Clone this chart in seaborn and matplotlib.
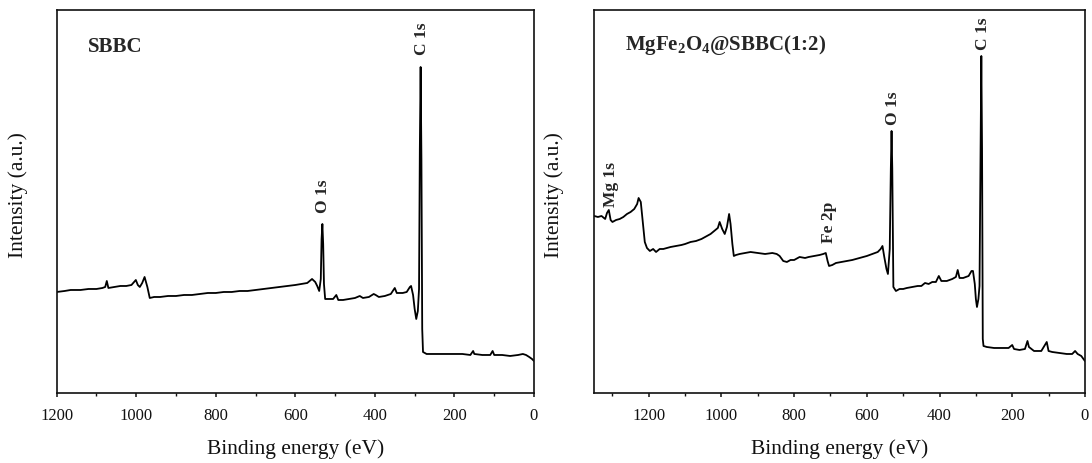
import numpy as np
import pandas as pd
import matplotlib
matplotlib.use("Agg")
import matplotlib.pyplot as plt
import seaborn as sns
from matplotlib.ticker import MultipleLocator

# ---------------- data ----------------
sbbc_energy = [1200, 1180, 1165, 1140, 1120, 1100, 1085, 1078, 1074, 1070, 1055, 1040, 1025, 1012,
               1001, 996, 991, 985, 979, 972, 966, 955, 940, 920, 900, 880, 860, 840, 820, 800,
               780, 760, 740, 720, 700, 680, 660, 640, 620, 600, 585, 570, 558, 550, 545, 540,
               536, 534, 532, 530, 528, 525, 515, 505, 497, 492, 480, 465, 450, 438, 430, 415,
               403, 398, 390, 375, 360, 350, 345, 330, 320, 312, 309, 304, 300, 296, 292, 289,
               287, 285, 283, 281, 279, 270, 250, 220, 200, 180, 160, 153, 150, 130, 110, 104,
               100, 80, 60, 40, 28, 20, 12, 5, 0]
sbbc_intensity = [101, 102, 103, 103, 104, 104, 105, 106, 112, 105, 106, 107, 107, 108,
                  113, 108, 106, 110, 116, 106, 95, 96, 96, 97, 97, 98, 98, 99, 100, 100,
                  101, 101, 102, 102, 103, 104, 105, 106, 107, 108, 109, 110, 114, 111, 107, 102,
                  114, 154, 169, 149, 109, 94, 94, 94, 98, 93, 93, 94, 95, 97, 95, 96,
                  99, 98, 96, 97, 99, 105, 100, 100, 101, 106, 107, 98, 84, 74, 82, 104,
                  244, 326, 234, 64, 41, 39, 39, 39, 39, 39, 38, 42, 39, 38, 38, 42,
                  38, 38, 37, 38, 39, 38, 36, 34, 32]

mgfe_energy = [1350, 1340, 1330, 1320, 1315, 1310, 1305, 1300, 1290, 1280, 1270, 1260, 1250, 1240,
               1232, 1228, 1222, 1216, 1211, 1205, 1197, 1188, 1180, 1170, 1160, 1150, 1140, 1125,
               1110, 1100, 1085, 1070, 1055, 1040, 1030, 1020, 1010, 1005, 998, 991, 985, 979,
               975, 970, 966, 960, 950, 935, 920, 900, 880, 860, 848, 840, 830, 820, 810, 800,
               785, 770, 760, 745, 730, 720, 713, 708, 704, 695, 685, 670, 655, 640, 620, 600,
               585, 570, 562, 557, 552, 546, 542, 537, 534, 532, 530, 527, 520, 510, 500, 490,
               475, 460, 450, 440, 430, 420, 410, 402, 395, 380, 365, 355, 350, 345, 335, 320,
               312, 308, 303, 300, 297, 293, 290, 287, 285, 283, 281, 279, 270, 250, 225, 210,
               200, 195, 180, 165, 158, 154, 140, 120, 105, 100, 90, 70, 50, 35, 27, 20, 10, 0]
mgfe_intensity = [177, 176, 177, 174, 180, 183, 173, 171, 173, 174, 176, 179, 181, 184,
                  189, 195, 191, 169, 151, 145, 142, 144, 141, 144, 144, 145, 146, 147,
                  148, 149, 151, 152, 154, 157, 159, 162, 165, 171, 164, 159, 166, 179,
                  169, 149, 137, 138, 139, 140, 141, 140, 139, 140, 139, 137, 132, 131, 133, 133,
                  136, 135, 136, 137, 138, 139, 140, 132, 127, 128, 130, 131, 132, 133, 135, 137,
                  139, 141, 144, 147, 136, 124, 119, 144, 224, 262, 224, 106, 102, 104, 104, 105,
                  106, 107, 107, 110, 109, 111, 111, 117, 112, 112, 114, 116, 123, 115, 115, 117,
                  122, 122, 109, 94, 86, 94, 107, 244, 337, 244, 54, 47, 46, 45, 45, 45,
                  48, 44, 43, 44, 52, 46, 42, 42, 51, 42, 41, 40, 39, 39, 42, 39, 37, 32]

xtick_values = [1200, 1000, 800, 600, 400, 200, 0]
sbbc_peaks = ["O 1s", "C 1s"]
sbbc_peak_pos = [531, 282.5]
sbbc_peak_y = [181, 339]
mgfe_peaks = ["Mg 1s", "Fe 2p", "O 1s", "C 1s"]
mgfe_peak_pos = [1303, 705, 529, 281]
mgfe_peak_y = [187, 151, 269, 344]

# ---------------- style ----------------
sns.set_theme(style="ticks")
plt.rcParams["font.family"] = ["Liberation Serif", "DejaVu Serif"]
plt.rcParams["mathtext.fontset"] = "custom"
plt.rcParams["mathtext.rm"] = "Liberation Serif"
plt.rcParams["mathtext.bf"] = "Liberation Serif:bold"
plt.rcParams["mathtext.it"] = "Liberation Serif:italic"

fig = plt.figure(figsize=(10.92, 4.64), dpi=100)
ax1 = fig.add_axes([0.0519, 0.1509, 0.4371, 0.8254])
ax2 = fig.add_axes([0.5442, 0.1509, 0.4493, 0.8254])

df1 = pd.DataFrame({"energy": sbbc_energy, "intensity": sbbc_intensity})
df2 = pd.DataFrame({"energy": mgfe_energy, "intensity": mgfe_intensity})

sns.lineplot(data=df1, x="energy", y="intensity", ax=ax1, color="black", lw=1.3,
             estimator=None, sort=False)
sns.lineplot(data=df2, x="energy", y="intensity", ax=ax2, color="black", lw=1.3,
             estimator=None, sort=False)

for ax, xmax, lx in ((ax1, 1200, -0.060), (ax2, 1350, -0.062)):
    ax.set_xlim(xmax, 0)
    ax.set_ylim(0, 383)
    ax.set_xticks(xtick_values)
    ax.xaxis.set_minor_locator(MultipleLocator(100))
    ax.set_yticks([])
    ax.tick_params(axis="x", which="major", direction="out", length=3, width=1.1,
                   labelsize=12, pad=7, color="#111111", labelcolor="#111111")
    ax.tick_params(axis="x", which="minor", direction="out", length=2.5, width=1.0,
                   color="#111111")
    for s in ax.spines.values():
        s.set_visible(True)
        s.set_linewidth(1.2)
        s.set_color("#111111")
    ax.set_xlabel("Binding energy (eV)", fontsize=15.5, labelpad=11, color="#111111")
    ax.set_ylabel("Intensity (a.u.)", fontsize=15.5, color="#111111")
    ax.yaxis.set_label_coords(lx, 0.52)

ax1.text(1122, 347, "SBBC", fontsize=15, fontweight="bold", ha="left", va="center")
for lab, xv, yv in zip(sbbc_peaks, sbbc_peak_pos, sbbc_peak_y):
    ax1.text(xv, yv, lab, rotation=90, fontsize=12.5, fontweight="bold", ha="center", va="bottom")

ax2.text(1266, 349, r"MgFe$_\mathbf{2}$O$_\mathbf{4}$@SBBC(1:2)", fontsize=15,
         fontweight="bold", ha="left", va="center")
for lab, xv, yv in zip(mgfe_peaks, mgfe_peak_pos, mgfe_peak_y):
    ax2.text(xv, yv, lab, rotation=90, fontsize=12.5, fontweight="bold", ha="center", va="bottom")

fig.savefig("out.png", dpi=100)
